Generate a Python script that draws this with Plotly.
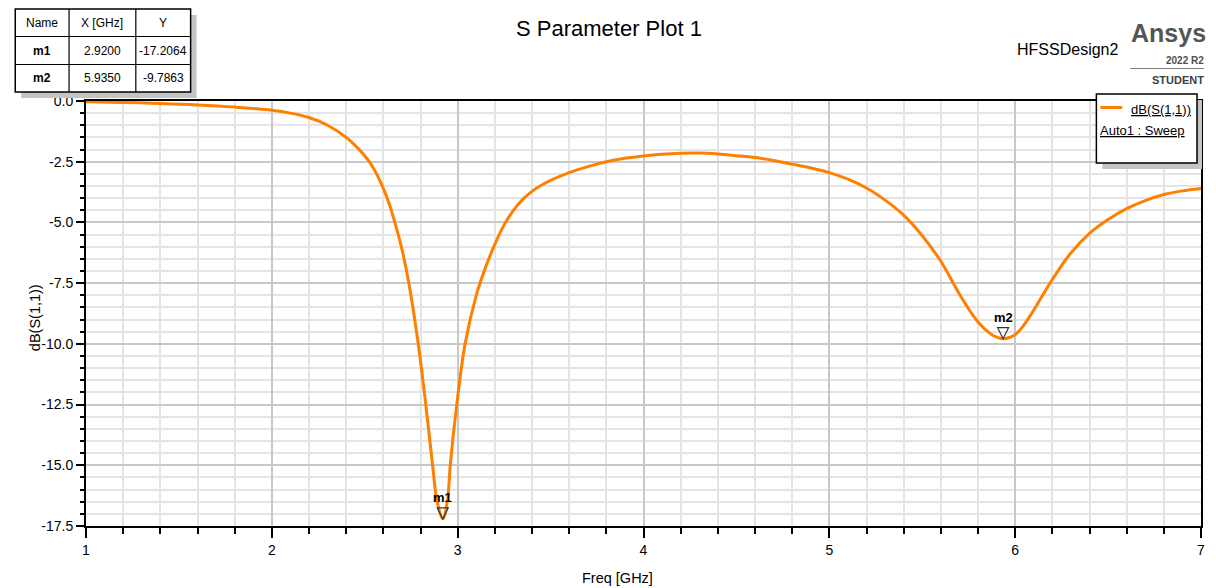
import plotly.graph_objects as go

# S11 sweep (frequency in GHz, magnitude in dB)
freq_ghz = [1.0, 1.2, 1.4, 1.6, 1.8, 2.0, 2.1, 2.2, 2.3, 2.4, 2.46, 2.52, 2.56,
            2.6, 2.63, 2.66, 2.7, 2.735, 2.786, 2.827, 2.865, 2.89, 2.92, 2.945,
            2.96, 2.995, 3.04, 3.1, 3.15, 3.2, 3.25, 3.3, 3.35, 3.4, 3.45, 3.5,
            3.6, 3.7, 3.8, 3.9, 4.0, 4.1, 4.2, 4.3, 4.4, 4.5, 4.6, 4.7, 4.8,
            4.9, 5.0, 5.1, 5.2, 5.3, 5.4, 5.5, 5.6, 5.7, 5.8, 5.87, 5.9, 5.935,
            5.97, 6.0, 6.04, 6.08, 6.14, 6.2, 6.29, 6.4, 6.5, 6.6, 6.7, 6.8,
            6.9, 7.0]
s11_db = [-0.03, -0.06, -0.10, -0.16, -0.25, -0.38, -0.50, -0.68, -1.0, -1.5,
          -1.92, -2.45, -2.95, -3.6, -4.2, -4.95, -6.1, -7.4, -9.9, -12.4,
          -15.0, -16.5, -17.2064, -16.45, -15.0, -12.5, -10.0, -8.0, -6.85,
          -5.9, -5.1, -4.5, -4.05, -3.72, -3.47, -3.27, -2.95, -2.7, -2.5,
          -2.36, -2.26, -2.19, -2.15, -2.14, -2.18, -2.25, -2.33, -2.45, -2.6,
          -2.76, -2.95, -3.22, -3.58, -4.08, -4.7, -5.55, -6.6, -7.95, -9.1,
          -9.6, -9.72, -9.7863, -9.74, -9.62, -9.3, -8.85, -8.1, -7.35, -6.35,
          -5.45, -4.88, -4.43, -4.1, -3.85, -3.7, -3.6]

# Markers
marker_names = ["m1", "m2"]
marker_x = [2.9200, 5.9350]
marker_y = [-17.2064, -9.7863]

# Axis ticks
x_ticks = [1, 2, 3, 4, 5, 6, 7]
y_ticks = [0.0, -2.5, -5.0, -7.5, -10.0, -12.5, -15.0, -17.5]

FONT = "Liberation Sans, Arial, sans-serif"
ORANGE = "#ff8000"

FIG_W, FIG_H = 1216, 588
ML, MR, MT, MB = 86, 11, 101, 62
PW = FIG_W - ML - MR
PH = FIG_H - MT - MB


def px(x):
    return (x - ML) / PW


def py(y):
    return (FIG_H - MB - y) / PH


fig = go.Figure()
fig.add_trace(go.Scatter(
    x=freq_ghz, y=s11_db, mode="lines",
    line=dict(color=ORANGE, width=3, shape="spline", smoothing=1.0),
    showlegend=False, hoverinfo="x+y",
))

shapes = []
annotations = []

# marker triangles and labels
for name, mx, my in zip(marker_names, marker_x, marker_y):
    shapes.append(dict(
        type="path", xref="x", yref="y", xsizemode="pixel", ysizemode="pixel",
        xanchor=mx, yanchor=my, path="M -5.5 11 L 5.5 11 L 0 0 Z",
        line=dict(color="#333333", width=1.2), fillcolor="rgba(0,0,0,0)",
    ))
    annotations.append(dict(
        x=mx, y=my, xref="x", yref="y", text=f"<b>{name}</b>", showarrow=False,
        yshift=21, font=dict(family=FONT, size=13, color="black"),
    ))


def rect(x0, y0, x1, y1, **kw):
    return dict(type="rect", xref="paper", yref="paper",
                x0=px(x0), x1=px(x1), y0=py(y1), y1=py(y0), layer="above", **kw)


def hline(x0, x1, y, color="black", width=1.2):
    return dict(type="line", xref="paper", yref="paper", x0=px(x0), x1=px(x1),
                y0=py(y), y1=py(y), line=dict(color=color, width=width), layer="above")


def vline(x, y0, y1, color="black", width=1.2):
    return dict(type="line", xref="paper", yref="paper", x0=px(x), x1=px(x),
                y0=py(y0), y1=py(y1), line=dict(color=color, width=width), layer="above")


def text(x, y, s, size, xanchor="center", color="black"):
    annotations.append(dict(x=px(x), y=py(y), xref="paper", yref="paper", text=s,
                            showarrow=False, xanchor=xanchor, yanchor="middle",
                            font=dict(family=FONT, size=size, color=color)))


# marker table (top-left)
shapes.append(rect(21, 15, 197, 98, fillcolor="#c4c4c4", line=dict(width=0)))
shapes.append(rect(15, 9, 191, 92, fillcolor="white", line=dict(color="black", width=1.5)))
shapes.append(vline(69, 9, 92))
shapes.append(vline(136, 9, 92))
shapes.append(hline(15, 191, 36.5))
shapes.append(hline(15, 191, 64.5))

table_header = ["Name", "X [GHz]", "Y"]
col_cx = [42, 102.5, 163.5]
row_cy = [23, 51, 78.5]
for cx, h in zip(col_cx, table_header):
    text(cx, row_cy[0], h, 12)
for i, (name, mx, my) in enumerate(zip(marker_names, marker_x, marker_y)):
    text(col_cx[0], row_cy[i + 1], f"<b>{name}</b>", 12)
    text(col_cx[1], row_cy[i + 1], f"{mx:.4f}", 12)
    text(col_cx[2], row_cy[i + 1], f"{my:.4f}", 12)

# legend box (top-right)
shapes.append(rect(1106, 100, 1206, 169, fillcolor="#c4c4c4", line=dict(width=0)))
shapes.append(rect(1100, 94, 1201, 163, fillcolor="white", line=dict(color="black", width=1.5)))
shapes.append(hline(1104, 1126, 107.5, color=ORANGE, width=3))
text(1197, 110, "<u>dB(S(1,1))</u>", 13, xanchor="right")
text(1102, 130, "<u>Auto1 : Sweep</u>", 13, xanchor="left")

# branding block
text(1071, 50, "HFSSDesign2", 16)
text(1212, 33, "<b>Ansys</b>", 25, xanchor="right", color="#555555")
text(1210, 61, "<b>2022 R2</b>", 10, xanchor="right", color="#505050")
shapes.append(hline(1134, 1208, 68.5, color="#808080", width=1.2))
text(1210, 80, "<b>STUDENT</b>", 11, xanchor="right", color="#404040")

# title and axis titles
text(611, 29, "S Parameter Plot 1", 22)
text(619, 578, "Freq [GHz]", 14.5)
annotations.append(dict(x=px(35), y=py(318), xref="paper", yref="paper",
                        text="dB(S(1,1))", showarrow=False, textangle=-90,
                        xanchor="center", yanchor="middle",
                        font=dict(family=FONT, size=14.5, color="black")))

axis_common = dict(
    showline=True, linecolor="black", linewidth=2, mirror=True,
    ticks="outside", tickcolor="black", tickwidth=2,
    showgrid=True, gridcolor="#c8c8c8", gridwidth=1.5,
    zeroline=False, tickfont=dict(family=FONT, size=14, color="black"),
)

fig.update_layout(
    width=FIG_W, height=FIG_H,
    margin=dict(l=ML, r=MR, t=MT, b=MB, pad=0),
    paper_bgcolor="white", plot_bgcolor="white",
    xaxis=dict(range=[1, 7], tickvals=x_ticks, ticktext=[str(v) for v in x_ticks],
               ticklen=10,
               minor=dict(dtick=0.2, ticklen=6, tickcolor="black", tickwidth=2,
                          ticks="outside", showgrid=True, gridcolor="#e4e4e4", gridwidth=1.5),
               **axis_common),
    yaxis=dict(range=[-17.5, 0], tickvals=y_ticks, ticktext=[f"{v:.1f}" for v in y_ticks],
               ticklen=8,
               minor=dict(dtick=0.5, tick0=0, ticklen=4.5, tickcolor="black", tickwidth=2,
                          ticks="outside", showgrid=True, gridcolor="#e4e4e4", gridwidth=1.5),
               **axis_common),
    shapes=shapes,
    annotations=annotations,
    showlegend=False,
)

fig.write_html("out.html")
